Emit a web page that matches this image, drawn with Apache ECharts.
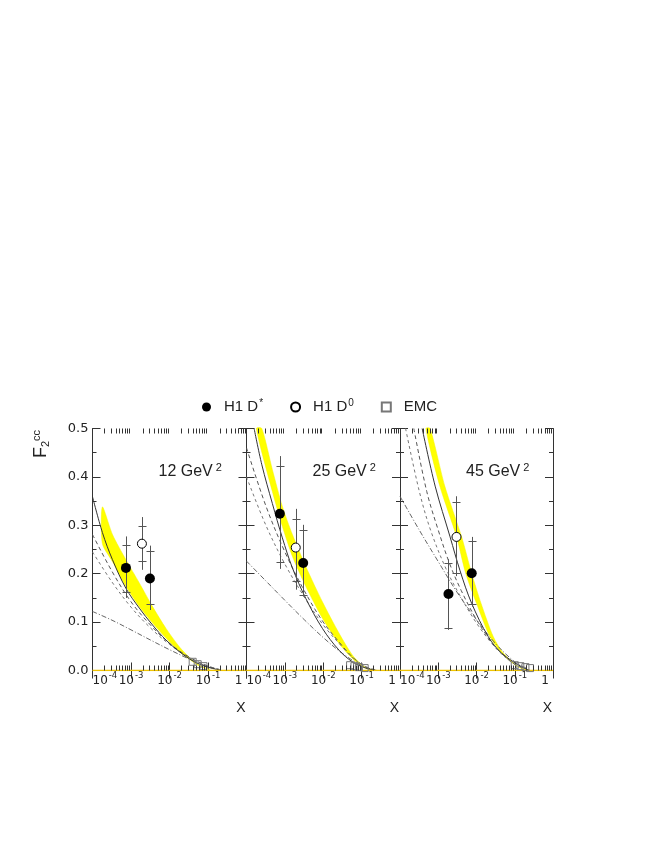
<!DOCTYPE html>
<html><head><meta charset="utf-8">
<script src="https://cdn.jsdelivr.net/npm/echarts@6/dist/echarts.min.js"></script>
<style>html,body{margin:0;padding:0;background:#fff}#c{width:664px;height:860px}</style>
</head><body><div id="c"></div>
<script>
// ---------- data ----------
const q2Labels = ['12', '25', '45'];
// H1 points: [x, F2cc, statLow, statHigh, totalLow, totalHigh]
const h1DstarQ12 = [[7.4e-4, 0.212, 0.163, 0.259, 0.150, 0.277], [3.1e-3, 0.190, 0.137, 0.246, 0.125, 0.258]];
const h1DstarQ25 = [[7.4e-4, 0.324, 0.225, 0.422, 0.210, 0.443], [3.0e-3, 0.222, 0.156, 0.291, 0.153, 0.301]];
const h1DstarQ45 = [[1.85e-3, 0.158, 0.087, 0.223, 0.084, 0.230], [7.5e-3, 0.201, 0.138, 0.267, 0.132, 0.276]];
const h1D0Q12 = [[1.92e-3, 0.262, 0.227, 0.298, 0.208, 0.317]];
const h1D0Q25 = [[1.92e-3, 0.254, 0.184, 0.312, 0.167, 0.334]];
const h1D0Q45 = [[3.0e-3, 0.276, 0.201, 0.349, 0.195, 0.360]];
// EMC: [x, F2cc]
const emcQ12 = [[0.040, 0.018], [0.054, 0.013], [0.076, 0.009]];
const emcQ25 = [[0.050, 0.011], [0.065, 0.009], [0.085, 0.007], [0.12, 0.005]];
const emcQ45 = [[0.10, 0.011], [0.14, 0.009], [0.19, 0.007], [0.25, 0.005]];
// NLO band (upper / lower edge)
const bandUpQ12 = [[1.81e-4, 0.338], [3.3e-4, 0.281], [7.36e-4, 0.229], [1.64e-3, 0.181], [3.63e-3, 0.132], [8.1e-3, 0.087], [0.018, 0.049], [0.033, 0.027], [0.060, 0.011], [0.11, 0.002]];
const bandLoQ12 = [[1.81e-4, 0.262], [3.3e-4, 0.225], [7.36e-4, 0.174], [1.64e-3, 0.132], [3.63e-3, 0.098], [8.1e-3, 0.067], [0.018, 0.039], [0.033, 0.023], [0.060, 0.009], [0.11, 0.002]];
const bandUpQ25 = [[2.5e-4, 0.5], [4.72e-4, 0.415], [8.6e-4, 0.339], [1.57e-3, 0.281], [3.5e-3, 0.215], [9.5e-3, 0.142], [0.0258, 0.077], [0.0573, 0.032], [0.104, 0.011], [0.2, 0.0]];
const bandLoQ25 = [[1.81e-4, 0.5], [4.72e-4, 0.370], [8.6e-4, 0.298], [1.57e-3, 0.236], [3.5e-3, 0.174], [9.5e-3, 0.108], [0.0258, 0.056], [0.0573, 0.025], [0.104, 0.008], [0.2, 0.0]];
const bandUpQ45 = [[6.15e-4, 0.5], [1.48e-3, 0.381], [4.09e-3, 0.276], [7.45e-3, 0.201], [0.0131, 0.139], [0.0274, 0.070], [0.0499, 0.036], [0.123, 0.008], [0.2, 0.0]];
const bandLoQ45 = [[4.75e-4, 0.5], [1.1e-3, 0.381], [3.03e-3, 0.276], [5.2e-3, 0.201], [0.010, 0.139], [0.0224, 0.070], [0.045, 0.036], [0.10, 0.012], [0.2, 0.001]];
// curves
const solidQ12 = [[1e-4, 0.359], [1.81e-4, 0.285], [3.3e-4, 0.229], [7.36e-4, 0.170], [1.64e-3, 0.129], [3.63e-3, 0.094], [8.1e-3, 0.063], [0.018, 0.039], [0.040, 0.020], [0.089, 0.008], [0.20, 0.001]];
const solidQ25 = [[1.58e-4, 0.5], [2.51e-4, 0.425], [4.72e-4, 0.345], [8.6e-4, 0.274], [1.57e-3, 0.212], [3.5e-3, 0.149], [9.5e-3, 0.087], [0.0258, 0.042], [0.0573, 0.018], [0.128, 0.005], [0.25, 0.0]];
const solidQ45 = [[3.8e-4, 0.5], [8.3e-4, 0.381], [2.04e-3, 0.276], [3.72e-3, 0.206], [7.45e-3, 0.139], [0.0203, 0.070], [0.0451, 0.036], [0.149, 0.008], [0.25, 0.0]];
const dashAQ12 = [[1e-4, 0.281], [3.2e-4, 0.205], [1e-3, 0.142], [3.2e-3, 0.094], [1e-2, 0.056], [3.2e-2, 0.028], [0.1, 0.009], [0.2, 0.002]];
const dashBQ12 = [[1e-4, 0.245], [3.2e-4, 0.183], [1e-3, 0.131], [3.2e-3, 0.088], [1e-2, 0.054], [3.2e-2, 0.027], [0.1, 0.009], [0.2, 0.002]];
const dashDotQ12 = [[1e-4, 0.122], [3.2e-4, 0.104], [1e-3, 0.084], [3.2e-3, 0.063], [1e-2, 0.043], [3.2e-2, 0.024], [0.1, 0.008], [0.2, 0.002]];
const dashAQ25 = [[1e-4, 0.46], [3.2e-4, 0.34], [1e-3, 0.245], [3.2e-3, 0.165], [1e-2, 0.100], [3.2e-2, 0.050], [0.063, 0.025], [0.126, 0.008], [0.25, 0.0]];
const dashBQ25 = [[1e-4, 0.40], [3.2e-4, 0.30], [1e-3, 0.22], [3.2e-3, 0.152], [1e-2, 0.094], [3.2e-2, 0.048], [0.063, 0.024], [0.126, 0.008], [0.25, 0.0]];
const dashDotQ25 = [[1e-4, 0.226], [3.2e-4, 0.185], [1e-3, 0.145], [3.2e-3, 0.105], [1e-2, 0.068], [3.2e-2, 0.035], [0.1, 0.010], [0.2, 0.002]];
const dashAQ45 = [[2.3e-4, 0.5], [5e-4, 0.37], [1e-3, 0.29], [2e-3, 0.22], [4e-3, 0.165], [1e-2, 0.105], [2.5e-2, 0.058], [5e-2, 0.032], [0.1, 0.013], [0.2, 0.003]];
const dashBQ45 = [[1.4e-4, 0.5], [3.2e-4, 0.37], [6.3e-4, 0.29], [1.6e-3, 0.21], [4e-3, 0.15], [1e-2, 0.098], [2.5e-2, 0.056], [5e-2, 0.031], [0.1, 0.013], [0.2, 0.003]];
const dashDotQ45 = [[1e-4, 0.36], [3.2e-4, 0.29], [1e-3, 0.225], [3.2e-3, 0.16], [1e-2, 0.105], [3.2e-2, 0.055], [0.1, 0.018], [0.2, 0.005]];
const zeroLine = [[1e-4, 0], [1, 0]];
const minorTickX = [2e-4,3e-4,4e-4,5e-4,6e-4,7e-4,8e-4,9e-4, 2e-3,3e-3,4e-3,5e-3,6e-3,7e-3,8e-3,9e-3, 2e-2,3e-2,4e-2,5e-2,6e-2,7e-2,8e-2,9e-2, 0.2,0.3,0.4,0.5,0.6,0.7,0.8,0.9];

// ---------- layout ----------
const panels = [
  {q2: q2Labels[0], dstar: h1DstarQ12, d0: h1D0Q12, emc: emcQ12, up: bandUpQ12, lo: bandLoQ12, solid: solidQ12, a: dashAQ12, b: dashBQ12, dd: dashDotQ12},
  {q2: q2Labels[1], dstar: h1DstarQ25, d0: h1D0Q25, emc: emcQ25, up: bandUpQ25, lo: bandLoQ25, solid: solidQ25, a: dashAQ25, b: dashBQ25, dd: dashDotQ25},
  {q2: q2Labels[2], dstar: h1DstarQ45, d0: h1D0Q45, emc: emcQ45, up: bandUpQ45, lo: bandLoQ45, solid: solidQ45, a: dashAQ45, b: dashBQ45, dd: dashDotQ45}
];
const boxes = [{left: 92.5, width: 154}, {left: 246.5, width: 153.5}, {left: 400, width: 153}];
const TOP = 428.5, HEIGHT = 242;
const AX = '#333';
const FONT = 'DejaVu Sans';

function expLabel(v) {
  const e = Math.round(Math.log10(v));
  if (e === 0) return '{one|1}';
  return '{b|10}{e|' + e + '}';
}
const xRich = {
  b: {fontSize: 12, lineHeight: 18, fontFamily: FONT, color: '#222'},
  one: {fontSize: 12, lineHeight: 18, fontFamily: FONT, color: '#222', padding: [0, 4, 0, 0]},
  e: {fontSize: 8.5, lineHeight: 9, verticalAlign: 'top', fontFamily: FONT, color: '#222', padding: [0, 0, 0, 1]}
};

const grid = [], xAxis = [], yAxis = [], series = [];
panels.forEach((p, i) => {
  grid.push({left: boxes[i].left, width: boxes[i].width, top: TOP, height: HEIGHT});
  const common = {gridIndex: i, type: 'log', logBase: 10, min: 1e-4, max: 1,
    axisLine: {show: true, lineStyle: {color: AX, width: 1}},
    axisTick: {show: true, inside: true, length: 8, lineStyle: {color: AX}},
    splitLine: {show: false}, minorTick: {show: false}};
  xAxis.push(Object.assign({}, common, {position: 'bottom',
    axisLabel: {show: true, formatter: expLabel, rich: xRich, margin: 1, alignMinLabel: 'left', alignMaxLabel: 'right', showMinLabel: true, showMaxLabel: true}}));
  xAxis.push(Object.assign({}, common, {position: 'top', axisLabel: {show: false}}));
  const yc = {gridIndex: i, type: 'value', min: 0, max: 0.5, interval: 0.1,
    axisLine: {show: true, lineStyle: {color: AX, width: 1}},
    axisTick: {show: true, inside: true, length: 8, lineStyle: {color: AX}},
    minorTick: {show: true, splitNumber: 2, length: 4, lineStyle: {color: AX}},
    splitLine: {show: false}};
  yAxis.push(Object.assign({}, yc, {position: 'left',
    axisLabel: {show: i === 0, formatter: v => v.toFixed(1), margin: 4, fontSize: 13, fontFamily: FONT, color: '#222'}}));
  yAxis.push(Object.assign({}, yc, {position: 'right', axisLabel: {show: false}}));

  const xi = i * 2, yi = i * 2;
  // yellow band
  series.push({type: 'custom', xAxisIndex: xi, yAxisIndex: yi, silent: true, z: 1,
    data: [p.up[0]],
    renderItem: (params, api) => {
      if (params.dataIndex !== 0) return null;
      const pts = p.up.map(v => api.coord(v)).concat(p.lo.slice().reverse().map(v => api.coord(v)));
      return {type: 'polygon', shape: {points: pts, smooth: 0.25}, style: {fill: '#ffff00', stroke: '#f4f400', lineWidth: 0.5}};
    }});
  const lineS = (data, color, type, z) => ({type: 'line', xAxisIndex: xi, yAxisIndex: yi, data: data, showSymbol: false, symbol: 'none',
    smooth: 0.35, silent: true, z: z, lineStyle: {color: color, width: 1, type: type}});
  series.push(lineS(p.a, '#555', [4, 3], 2));
  series.push(lineS(p.b, '#777', [3, 3], 2));
  series.push(lineS(p.dd, '#666', [5, 2, 1, 2], 2));
  series.push(lineS(p.solid, '#333', 'solid', 3));
  series.push(Object.assign(lineS(zeroLine, '#f0c400', 'solid', 3), {smooth: false, lineStyle: {color: '#f0c400', width: 1.5}}));
  // minor log ticks
  series.push({type: 'custom', xAxisIndex: xi, yAxisIndex: yi, silent: true, z: 6,
    data: minorTickX.map(v => [v, 0]),
    renderItem: (params, api) => {
      const x = api.value(0);
      const b = api.coord([x, 0]), t = api.coord([x, 0.5]);
      const cx = Math.round(b[0]) + 0.5;
      const st = {stroke: AX, lineWidth: 1};
      return {type: 'group', children: [
        {type: 'line', shape: {x1: cx, y1: b[1], x2: cx, y2: b[1] - 5}, style: st},
        {type: 'line', shape: {x1: cx, y1: t[1], x2: cx, y2: t[1] + 5}, style: st}]};
    }});
  // error bars
  const errS = data => ({type: 'custom', xAxisIndex: xi, yAxisIndex: yi, silent: true, z: 4,
    data: data, encode: {x: 0, y: 1},
    renderItem: (params, api) => {
      const x = api.value(0);
      const top = api.coord([x, api.value(5)]), bot = api.coord([x, api.value(4)]);
      const sh = api.coord([x, api.value(3)]), sl = api.coord([x, api.value(2)]);
      const cx = Math.round(top[0]) + 0.5;
      const st = {stroke: '#555', lineWidth: 1};
      return {type: 'group', children: [
        {type: 'line', shape: {x1: cx, y1: top[1], x2: cx, y2: bot[1]}, style: st},
        {type: 'line', shape: {x1: cx - 4, y1: Math.round(sh[1]) + 0.5, x2: cx + 4, y2: Math.round(sh[1]) + 0.5}, style: st},
        {type: 'line', shape: {x1: cx - 4, y1: Math.round(sl[1]) + 0.5, x2: cx + 4, y2: Math.round(sl[1]) + 0.5}, style: st}]};
    }});
  series.push(errS(p.dstar));
  series.push(errS(p.d0));
  series.push({type: 'scatter', name: 'H1 D*', xAxisIndex: xi, yAxisIndex: yi, z: 5, symbol: 'circle', symbolSize: 10,
    data: p.dstar.map(r => [r[0], r[1]]), itemStyle: {color: '#000', opacity: 1}});
  series.push({type: 'scatter', name: 'H1 D0', xAxisIndex: xi, yAxisIndex: yi, z: 5, symbol: 'circle', symbolSize: 9,
    data: p.d0.map(r => [r[0], r[1]]), itemStyle: {color: '#fff', borderColor: '#000', borderWidth: 1, opacity: 1}});
  series.push({type: 'scatter', name: 'EMC', xAxisIndex: xi, yAxisIndex: yi, z: 5, symbol: 'rect', symbolSize: 7,
    data: p.emc, itemStyle: {color: 'rgba(0,0,0,0)', borderColor: '#777', borderWidth: 1, opacity: 1}});
});

const graphic = [];
panels.forEach((p, i) => {
  graphic.push({type: 'text', left: boxes[i].left + 66, top: 462, silent: true,
    style: {text: p.q2 + ' GeV{s|2}', fill: '#222', font: '16px "Liberation Sans"',
      rich: {s: {fontSize: 11, fontFamily: 'Liberation Sans', verticalAlign: 'top', lineHeight: 11, padding: [0, 0, 0, 3], fill: '#222'}}, lineHeight: 20}});
  graphic.push({type: 'text', right: 664 - (boxes[i].left + boxes[i].width) + 1, top: 701, silent: true,
    style: {text: 'X', fill: '#222', font: '14px "Liberation Sans"'}});
});
graphic.push({type: 'text', x: 41, y: 444, rotation: Math.PI / 2, silent: true,
  style: {text: '{f|F}{sub|2}{sup|cc}', align: 'center', verticalAlign: 'middle',
    rich: {f: {fontSize: 18, fontFamily: 'Liberation Sans', lineHeight: 20, fill: '#222'},
      sub: {fontSize: 11, fontFamily: 'Liberation Sans', lineHeight: 11, verticalAlign: 'bottom', fill: '#222'},
      sup: {fontSize: 11, fontFamily: 'Liberation Sans', lineHeight: 11, verticalAlign: 'top', fill: '#222'}}}});

const option = {
  animation: false,
  backgroundColor: '#fff',
  legend: {left: 202, top: 398, padding: 0, itemWidth: 9, itemHeight: 9, itemGap: 27,
    data: [{name: 'H1 D*', icon: 'circle'}, {name: 'H1 D0', icon: 'circle'}, {name: 'EMC', icon: 'rect'}],
    formatter: n => n.replace(/D(.)$/, 'D{sup|$1}'),
    textStyle: {fontSize: 15, fontFamily: 'Liberation Sans', color: '#222', lineHeight: 18, padding: [0, 0, 0, 8],
      rich: {sup: {fontSize: 10, fontFamily: 'Liberation Sans', lineHeight: 10, verticalAlign: 'top', padding: [0, 0, 0, 1], color: '#222'}}}},
  grid: grid, xAxis: xAxis, yAxis: yAxis, series: series, graphic: graphic
};
const chart = echarts.init(document.getElementById('c'), null, {renderer: 'canvas', width: 664, height: 860});
chart.setOption(option);
</script></body></html>
